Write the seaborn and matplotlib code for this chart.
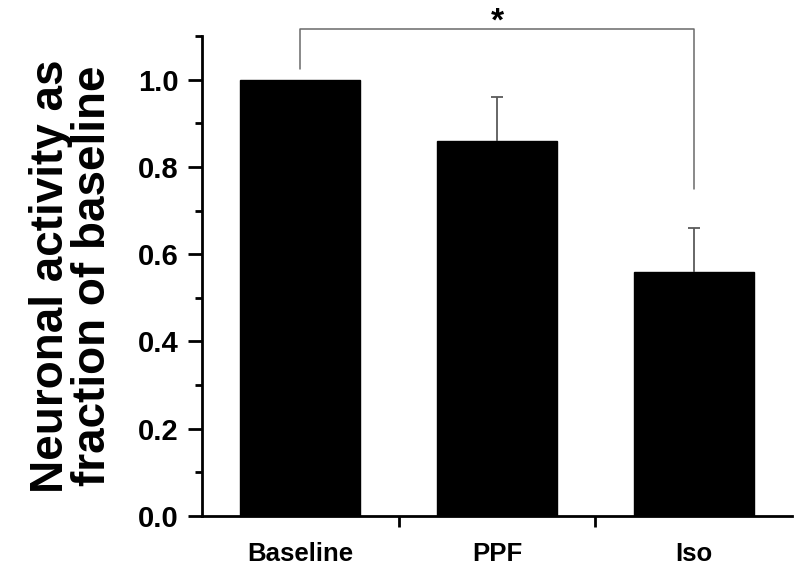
import numpy as np
import pandas as pd
import matplotlib
matplotlib.use("Agg")
import matplotlib.pyplot as plt
import seaborn as sns

sns.set_style("ticks")
plt.rcParams['font.family'] = ['Liberation Sans', 'DejaVu Sans']
plt.rcParams['text.color'] = 'black'
plt.rcParams['axes.labelcolor'] = 'black'
plt.rcParams['xtick.color'] = 'black'
plt.rcParams['ytick.color'] = 'black'

# data
groups = ["Baseline", "PPF", "Iso"]
activity = [1.0, 0.86, 0.56]
err_up = [0.0, 0.10, 0.10]
sig_pair = (0, 2)           # bracket Baseline vs Iso
sig_ends = [1.025, 0.75]    # bottom of bracket legs
sig_top = 1.117
sig_label = "*"

df = pd.DataFrame({"group": groups, "activity": activity})

fig = plt.figure(figsize=(8, 5.72), dpi=100)
ax = fig.add_axes([0.2525, 0.098, 0.7375, 0.839])

sns.barplot(x="group", y="activity", data=df, color="black", width=0.61,
            errorbar=None, saturation=1, ax=ax)
for p in ax.patches:
    p.set_edgecolor("black")

# upward-only error bars (skip groups with no error)
idx = [i for i, e in enumerate(err_up) if e > 0]
eb = ax.errorbar(idx, [activity[i] for i in idx],
                 yerr=[np.zeros(len(idx)), [err_up[i] for i in idx]], fmt="none",
                 ecolor="#5a5a5a", elinewidth=1.3, capsize=4.5, capthick=1.3)
eb[1][0].set_visible(False)   # drop the lower caps

# significance bracket
x0, x1 = sig_pair
ax.plot([x0, x0, x1, x1], [sig_ends[0], sig_top, sig_top, sig_ends[1]],
        color="#6a6a6a", lw=1.1, clip_on=False)
ax.text((x0 + x1) / 2, 1.113, sig_label, ha="center", va="baseline",
        fontsize=24, fontweight="bold", clip_on=False)

ax.set_xlim(-0.5, 2.5)
ax.set_ylim(0, 1.1)
ax.set_yticks(np.arange(0, 1.01, 0.2))
ax.set_yticklabels([f"{v:.1f}" for v in np.arange(0, 1.01, 0.2)],
                   fontsize=21, fontweight="bold")
ax.set_yticks(np.arange(0.1, 1.11, 0.2), minor=True)
ax.tick_params(axis="y", which="major", length=10, width=2, pad=7, direction="out")
ax.tick_params(axis="y", which="minor", length=5, width=2, direction="out")

ax.set_xticks([0, 1, 2])
ax.set_xticklabels(groups, fontsize=18.5, fontweight="bold")
ax.set_xticks([0.5, 1.5], minor=True)
ax.tick_params(axis="x", which="major", length=0, pad=19)
ax.tick_params(axis="x", which="minor", length=8, width=2, direction="out")

ax.set_xlabel("")
ax.set_ylabel("Neuronal activity as\nfraction of baseline", fontsize=33,
              fontweight="bold", linespacing=0.95, labelpad=16)

for s in ["left", "bottom"]:
    ax.spines[s].set_linewidth(2)
    ax.spines[s].set_color("black")
sns.despine(ax=ax)

fig.savefig("out.png", dpi=100)
